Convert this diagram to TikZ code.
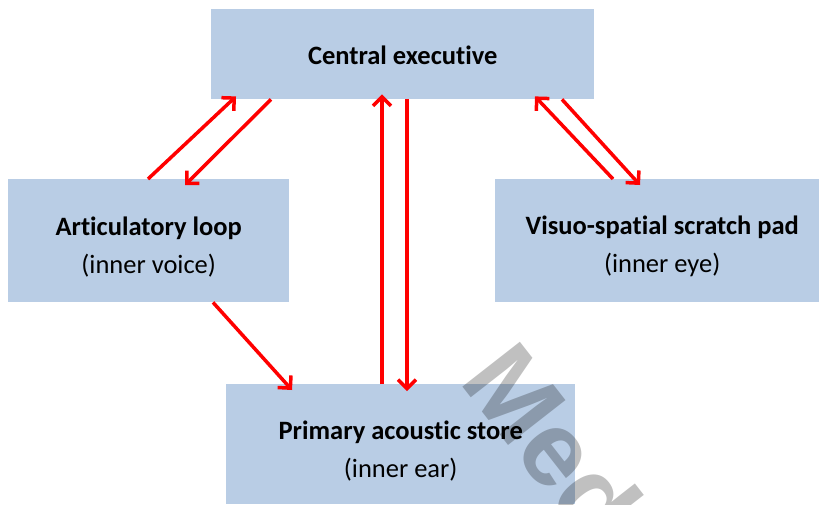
\documentclass[tikz,border=0pt]{standalone}
\usepackage{fontspec}
\setmainfont{Carlito}[Ligatures=NoCommon]
\newfontfamily\wmfont{Liberation Sans}
\usetikzlibrary{arrows.meta,calc}
\definecolor{boxblue}{RGB}{185,205,229}
\definecolor{arrred}{RGB}{255,0,0}
\definecolor{wmgray}{RGB}{192,192,192}
\tikzset{
  box/.style={fill=boxblue, draw=none, anchor=north west, inner sep=0pt},
  boxtext/.style={inner sep=0pt, align=center, font=\fontsize{26.5}{38}\selectfont},
  arr/.style={draw=arrred, line width=3.5pt, -{Straight Barb[length=9pt,width=18pt,line width=3.5pt]}}
}
\begin{document}
\begin{tikzpicture}[x=1pt,y=-1pt]
\useasboundingbox (0,0) rectangle (819,504);
\node[box, minimum width=383pt, minimum height=90pt] (ce) at (211,9) {};
\node[box, minimum width=281pt, minimum height=123pt] (al) at (8,179) {};
\node[box, minimum width=324pt, minimum height=123pt] (vs) at (495,179) {};
\node[box, minimum width=349pt, minimum height=120pt] (pas) at (226,384) {};
\node[boxtext] (cet) at ([yshift=-1pt]ce.center) {\textbf{Central executive}};
\node[boxtext] (alt) at ([yshift=-6pt]al.center) {\textbf{Articulatory loop}\\(inner voice)};
\node[boxtext] (vst) at ([xshift=5pt,yshift=-6pt]vs.center) {\textbf{Visuo-spatial scratch pad}\\(inner eye)};
\node[boxtext] (past) at ([yshift=-7pt]pas.center) {\textbf{Primary acoustic store}\\(inner ear)};
% watermark
\begin{scope}[blend mode=multiply]
\clip (0,0) rectangle (819,504);
\node[text=wmgray, rotate=-52, anchor=base west, font=\fontsize{106}{106}\wmfont\bfseries\selectfont, inner sep=0pt] (wm) at (458,381) {Med};
\end{scope}
% arrows
\draw[arr] ([xshift=140pt]al.north west) -- ([xshift=25pt,yshift=3pt]ce.south west);
\draw[arr] ([xshift=60pt]ce.south west) -- ([xshift=177pt,yshift=-6pt]al.north west);
\draw[arr] ([xshift=118pt]vs.north west) -- ([xshift=324pt,yshift=3pt]ce.south west);
\draw[arr] ([xshift=351pt]ce.south west) -- ([xshift=145pt,yshift=-6pt]vs.north west);
\draw[arr] ([xshift=156pt]pas.north west) -- ([xshift=171pt,yshift=5pt]ce.south west);
\draw[arr] ([xshift=196pt]ce.south west) -- ([xshift=181pt,yshift=-7pt]pas.north west);
\draw[arr] ([xshift=205pt]al.south west) -- ([xshift=66pt,yshift=-6pt]pas.north west);
\end{tikzpicture}
\end{document}
